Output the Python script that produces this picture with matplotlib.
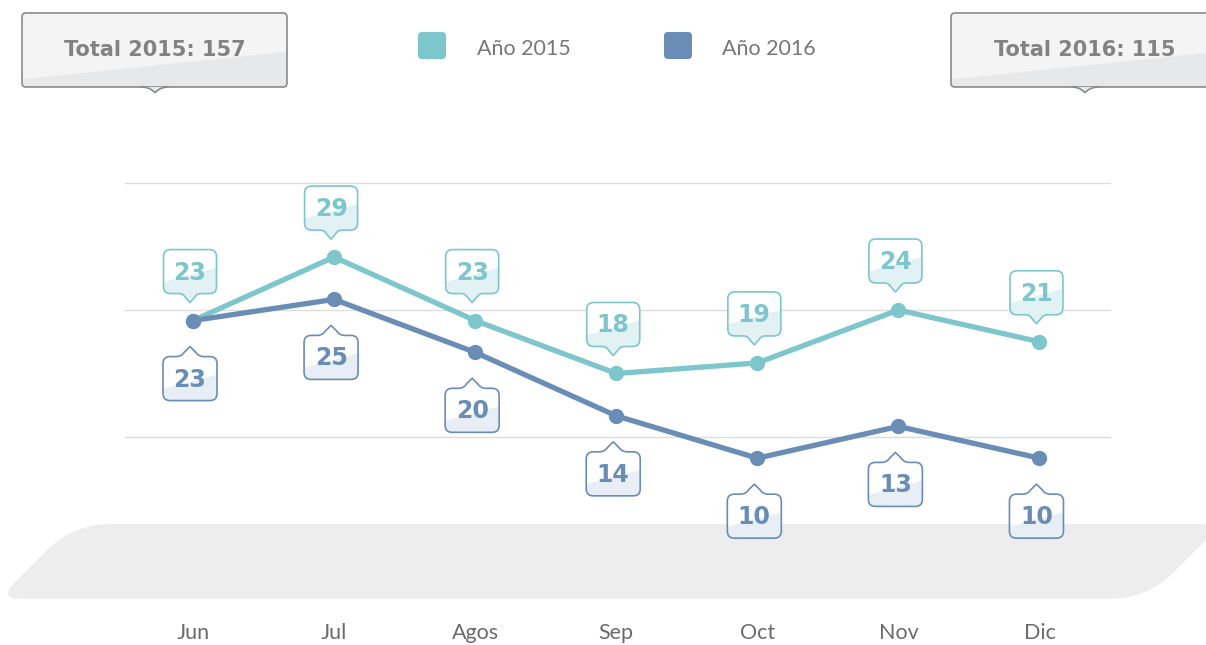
import matplotlib
matplotlib.use('Agg')
import matplotlib.pyplot as plt
from matplotlib.path import Path
from matplotlib.patches import PathPatch, FancyBboxPatch, Polygon

# ---------------- data ----------------
months = ['Jun', 'Jul', 'Agos', 'Sep', 'Oct', 'Nov', 'Dic']
values_2015 = [23, 29, 23, 18, 19, 24, 21]
values_2016 = [23, 25, 20, 14, 10, 13, 10]
series_names = ['Año 2015', 'Año 2016']
grid_values = [12, 24, 36]

# ---------------- style ----------------
TEAL = '#7cc6cc'
BLUE = '#6a8db6'
TEAL_TINT = '#e2f1f3'
BLUE_TINT = '#e8eef5'
LIGHT_FONT = ['Lato', 'DejaVu Sans']
BOLD_FONT = ['DejaVu Sans']
W, H = 1206, 645

plt.rcParams['font.family'] = LIGHT_FONT

fig = plt.figure(figsize=(W / 100, H / 100), dpi=100)

# background axes in pixel coordinates (y down)
bg = fig.add_axes([0, 0, 1, 1], zorder=0)
bg.set_xlim(0, W)
bg.set_ylim(H, 0)
bg.axis('off')

# foreground overlay for callouts
fg = fig.add_axes([0, 0, 1, 1], zorder=3)
fg.set_xlim(0, W)
fg.set_ylim(H, 0)
fg.axis('off')
fg.patch.set_alpha(0)

# data axes
ax = fig.add_axes([125 / W, 1 - 437 / H, 985 / W, 254 / H], zorder=2)
ax.patch.set_alpha(0)
ax.set_xlim(-0.482, 6.5)
ax.set_ylim(min(grid_values), max(grid_values))
for s in ax.spines.values():
    s.set_visible(False)
ax.set_yticks([])
x = list(range(len(months)))
ax.set_xticks(x)
ax.set_xticklabels(months, fontsize=15.5, color='#6b6b6b')
ax.tick_params(axis='x', length=0, pad=134)
for g in grid_values:
    ax.axhline(g, color='#dcdcdc', lw=1.0, zorder=1, clip_on=False)


def rounded_poly(pts, cuts):
    verts, codes = [], []
    n = len(pts)

    def towards(a, b, dist):
        dx, dy = b[0] - a[0], b[1] - a[1]
        L = (dx * dx + dy * dy) ** 0.5
        return (a[0] + dx / L * dist, a[1] + dy / L * dist)
    for i in range(n):
        p = pts[i]
        a = towards(p, pts[i - 1], cuts[i])
        b = towards(p, pts[(i + 1) % n], cuts[i])
        verts.append(a)
        codes.append(Path.MOVETO if i == 0 else Path.LINETO)
        verts += [p, b]
        codes += [Path.CURVE3, Path.CURVE3]
    verts.append(verts[0]); codes.append(Path.CLOSEPOLY)
    return Path(verts, codes)


# gray band (parallelogram with rounded corners)
band_pts = [(73, 524), (1222, 524), (1147, 599), (-2, 599)]
band = PathPatch(rounded_poly(band_pts, [38, 24, 38, 24]), facecolor='#ededed',
                 edgecolor='none', zorder=0)
bg.add_patch(band)


def callout_path(cx, cy, w, h, r, pdir, pw, ph):
    x0, x1 = cx - w / 2, cx + w / 2
    y0, y1 = cy - h / 2, cy + h / 2
    V, C = [], []

    def ln(p):
        V.append(p); C.append(Path.LINETO)

    def cv(c, p):
        V.extend([c, p]); C.extend([Path.CURVE3, Path.CURVE3])
    V.append((x0 + r, y0)); C.append(Path.MOVETO)
    if pdir == 'up':
        ln((cx - pw, y0))
        cv((cx - pw * 0.6, y0), (cx - pw * 0.4, y0 - ph * 0.45))
        ln((cx, y0 - ph))
        ln((cx + pw * 0.4, y0 - ph * 0.45))
        cv((cx + pw * 0.6, y0), (cx + pw, y0))
    ln((x1 - r, y0))
    cv((x1, y0), (x1, y0 + r))
    ln((x1, y1 - r))
    cv((x1, y1), (x1 - r, y1))
    if pdir == 'down':
        ln((cx + pw, y1))
        cv((cx + pw * 0.6, y1), (cx + pw * 0.4, y1 + ph * 0.45))
        ln((cx, y1 + ph))
        ln((cx - pw * 0.4, y1 + ph * 0.45))
        cv((cx - pw * 0.6, y1), (cx - pw, y1))
    ln((x0 + r, y1))
    cv((x0, y1), (x0, y1 - r))
    ln((x0, y0 + r))
    cv((x0, y0), (x0 + r, y0))
    V.append((x0 + r, y0)); C.append(Path.CLOSEPOLY)
    return Path(V, C)


def callout(axis, cx, cy, w, h, r, pdir, pw, ph, edge, base, tint, lw,
            split=(0.75, 0.4), z=5):
    path = callout_path(cx, cy, w, h, r, pdir, pw, ph)
    patch = PathPatch(path, facecolor=base, edgecolor='none', zorder=z)
    axis.add_patch(patch)
    x0, x1 = cx - w / 2, cx + w / 2
    y0, y1 = cy - h / 2, cy + h / 2
    tint_poly = Polygon([(x0 - 2, y0 + split[0] * h), (x1 + 2, y0 + split[1] * h),
                         (x1 + 2, y1 + ph + 5), (x0 - 2, y1 + ph + 5)],
                        closed=True, facecolor=tint, edgecolor='none', zorder=z + 0.1)
    axis.add_patch(tint_poly)
    tint_poly.set_clip_path(patch)
    outline = PathPatch(path, facecolor='none', edgecolor=edge, lw=lw, zorder=z + 0.2,
                        joinstyle='round')
    axis.add_patch(outline)


# total boxes
total_2015 = sum(values_2015)
total_2016 = sum(values_2016)
for (bx0, bx1, pxc, txt) in [(22, 287, 155, f'Total 2015: {total_2015}'),
                             (951, 1218, 1085, f'Total 2016: {total_2016}')]:
    callout(bg, (bx0 + bx1) / 2, 50, bx1 - bx0, 74, 4, 'down', 0, 0,
            '#8a8a8a', '#f4f4f5', '#e7e8e9', 1.2, split=(0.9, 0.52), z=2)
    tri = PathPatch(Path([(pxc - 14, 87), (pxc - 7, 87), (pxc - 4, 89.5), (pxc, 92.5),
                          (pxc + 4, 89.5), (pxc + 7, 87), (pxc + 14, 87)],
                         [Path.MOVETO, Path.CURVE3, Path.CURVE3, Path.LINETO,
                          Path.LINETO, Path.CURVE3, Path.CURVE3]),
                    facecolor='#e7e8e9', edgecolor='#8a8a8a', lw=1.2, zorder=2.5)
    bg.add_patch(tri)
    bg.text(pxc, 50, txt, ha='center', va='center', fontsize=15, fontweight='bold',
            color='#828282', zorder=3, family=BOLD_FONT)

# legend
for (sx, tx, col, name) in [(418, 477, TEAL, series_names[0]),
                            (664, 722, BLUE, series_names[1])]:
    bg.add_patch(FancyBboxPatch((sx, 32), 28, 27, boxstyle='round,pad=0,rounding_size=4',
                                facecolor=col, edgecolor='none', zorder=2))
    bg.text(tx, 49, name, ha='left', va='center', fontsize=15.5, color='#777777', zorder=3)

# lines
ax.plot(x, values_2015, color=TEAL, lw=3.8, marker='o', ms=10, zorder=3,
        solid_capstyle='round', clip_on=False)
ax.plot(x, values_2016, color=BLUE, lw=3.8, marker='o', ms=10, zorder=4,
        solid_capstyle='round', clip_on=False)

# value callouts
for xi, v15, v16 in zip(x, values_2015, values_2016):
    dx, dy = ax.transData.transform((xi, v15))
    px, py = dx, H - dy
    cy = py - 49
    callout(fg, px - 3, cy, 53, 44, 7, 'down', 11, 9, TEAL, 'white', TEAL_TINT, 1.2)
    fg.text(px - 3, cy + 1, str(v15), ha='center', va='center', fontsize=17,
            fontweight='bold', color=TEAL, zorder=6, family=BOLD_FONT)

    dx, dy = ax.transData.transform((xi, v16))
    px, py = dx, H - dy
    cy = py + 58
    callout(fg, px - 3, cy, 54, 44, 7, 'up', 14, 10, BLUE, 'white', BLUE_TINT, 1.2)
    fg.text(px - 3, cy + 1, str(v16), ha='center', va='center', fontsize=17,
            fontweight='bold', color=BLUE, zorder=6, family=BOLD_FONT)

fig.savefig('out.png', dpi=100)
